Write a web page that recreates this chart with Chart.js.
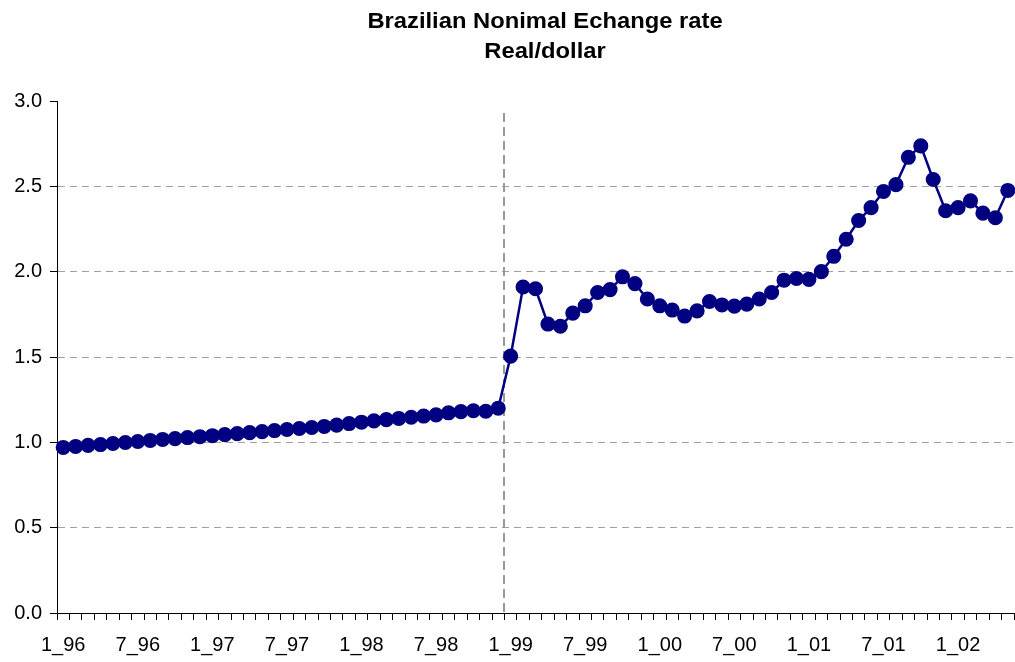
<!DOCTYPE html>
<html>
<head>
<meta charset="utf-8">
<script src="https://cdn.jsdelivr.net/npm/chart.js@4.4.1/dist/chart.umd.min.js"></script>
<style>
html,body{margin:0;padding:0;background:#fff;}
#wrap{width:1015px;height:662px;position:relative;}
</style>
</head>
<body>
<div id="wrap"><canvas id="c"></canvas></div>
<script>
const titleLines = ["Brazilian Nonimal Echange rate", "Real/dollar"];

const categories = [
 "1_96","2_96","3_96","4_96","5_96","6_96","7_96","8_96","9_96","10_96","11_96","12_96",
 "1_97","2_97","3_97","4_97","5_97","6_97","7_97","8_97","9_97","10_97","11_97","12_97",
 "1_98","2_98","3_98","4_98","5_98","6_98","7_98","8_98","9_98","10_98","11_98","12_98",
 "1_99","2_99","3_99","4_99","5_99","6_99","7_99","8_99","9_99","10_99","11_99","12_99",
 "1_00","2_00","3_00","4_00","5_00","6_00","7_00","8_00","9_00","10_00","11_00","12_00",
 "1_01","2_01","3_01","4_01","5_01","6_01","7_01","8_01","9_01","10_01","11_01","12_01",
 "1_02","2_02","3_02","4_02","5_02"
];

const rate = [
 0.970,0.976,0.982,0.987,0.993,0.999,1.005,1.011,1.017,1.022,1.028,1.033,
 1.039,1.045,1.051,1.057,1.063,1.069,1.075,1.081,1.087,1.093,1.101,1.110,
 1.118,1.126,1.133,1.140,1.147,1.154,1.161,1.173,1.180,1.185,1.182,1.200,
 1.505,1.910,1.900,1.693,1.680,1.757,1.800,1.878,1.895,1.970,1.930,1.840,
 1.800,1.775,1.740,1.770,1.825,1.805,1.798,1.810,1.840,1.878,1.950,1.960,
 1.955,2.000,2.090,2.190,2.300,2.375,2.470,2.510,2.670,2.737,2.540,2.357,
 2.375,2.415,2.343,2.316,2.476
];

const yTicks = ["0.0","0.5","1.0","1.5","2.0","2.5","3.0"];
const shownLabels = ["1_96","7_96","1_97","7_97","1_98","7_98","1_99","7_99","1_00","7_00","1_01","7_01","1_02"];
const devaluationBefore = "1_99";

const FONT = '"Liberation Sans", Arial, sans-serif';

const titlePlugin = {
  id: 'titleText',
  afterDraw(chart) {
    const ctx = chart.ctx;
    ctx.save();
    ctx.fillStyle = '#000';
    ctx.font = 'bold 22px ' + FONT;
    ctx.textAlign = 'center';
    ctx.textBaseline = 'middle';
    const cx = 545, sx = 1.08;
    [[titleLines[0], 22], [titleLines[1], 52]].forEach(([t, y]) => {
      ctx.save();
      ctx.translate(cx, y);
      ctx.scale(sx, 1);
      ctx.fillText(t, 0, 0);
      ctx.restore();
    });
    ctx.restore();
  }
};

const vlinePlugin = {
  id: 'vline',
  beforeDatasetsDraw(chart) {
    const xs = chart.scales.x, area = chart.chartArea;
    const i = categories.indexOf(devaluationBefore);
    const x = Math.round((xs.getPixelForValue(i - 1) + xs.getPixelForValue(i)) / 2);
    const ctx = chart.ctx;
    ctx.save();
    ctx.strokeStyle = '#999';
    ctx.lineWidth = 2;
    ctx.setLineDash([9, 5]);
    ctx.beginPath();
    ctx.moveTo(x, area.top + 12);
    ctx.lineTo(x, area.bottom);
    ctx.stroke();
    ctx.restore();
  }
};

new Chart(document.getElementById('c'), {
  type: 'line',
  data: {
    labels: categories,
    datasets: [{
      data: rate,
      borderColor: '#000080',
      backgroundColor: '#000080',
      pointBackgroundColor: '#000080',
      pointBorderColor: '#000080',
      pointRadius: 6.3,
      pointHoverRadius: 6.3,
      borderWidth: 2.5,
      tension: 0,
      clip: false
    }]
  },
  options: {
    responsive: true,
    maintainAspectRatio: false,
    animation: false,
    events: [],
    layout: { autoPadding: false, padding: { top: 101, right: 1, left: 0, bottom: 0 } },
    plugins: { legend: { display: false }, title: { display: false }, tooltip: { enabled: false } },
    scales: {
      x: {
        type: 'category',
        offset: true,
        afterFit(s) { s.height = 49; s.paddingRight = 0; s.paddingLeft = 0; },
        grid: { display: true, drawOnChartArea: false, drawTicks: true, offset: true, tickLength: 7, tickColor: '#000', tickWidth: 1 },
        border: { display: true, color: '#000', width: 1 },
        ticks: {
          autoSkip: false, maxRotation: 0, minRotation: 0, padding: 13,
          color: '#000',
          font: { family: FONT, size: 20 },
          callback(v, i) { const l = categories[i]; return shownLabels.includes(l) ? l : ''; }
        }
      },
      y: {
        min: 0, max: 3,
        afterFit(s) { s.width = 57; s.paddingTop = 0; s.paddingBottom = 0; },
        grid: {
          drawOnChartArea: true, drawTicks: true, tickLength: 7, tickColor: '#000', tickWidth: 1,
          color(ctx) { const v = ctx.tick && ctx.tick.value; return (v === 0 || v === 3) ? 'rgba(0,0,0,0)' : '#a0a0a0'; },
          lineWidth: 1
        },
        border: { display: true, color: '#000', width: 1, dash: [7, 5] },
        ticks: {
          stepSize: 0.5, padding: 8, color: '#000',
          font: { family: FONT, size: 20 },
          callback(v, i) { return yTicks[i]; }
        }
      }
    }
  },
  plugins: [titlePlugin, vlinePlugin]
});
</script>
</body>
</html>
